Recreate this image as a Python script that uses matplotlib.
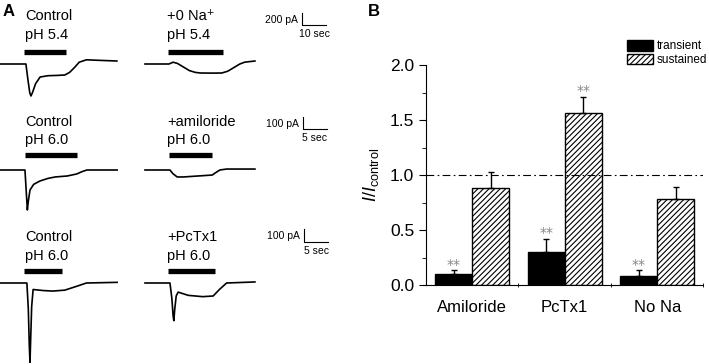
import numpy as np
import matplotlib.pyplot as plt
from matplotlib.patches import Patch

plt.rcParams['font.family'] = ['Liberation Sans', 'DejaVu Sans']
plt.rcParams['mathtext.fontset'] = 'custom'
plt.rcParams['mathtext.rm'] = 'Liberation Sans'
plt.rcParams['mathtext.it'] = 'Liberation Sans:italic'
plt.rcParams['hatch.linewidth'] = 0.8

# ---- panel A: traces, time in s, current in pA ----
ctrl54_t = [0, 10.8, 11.6, 12.4, 12.9, 13.6, 14.8, 16.7, 20, 24, 27, 29, 31, 33, 36, 42, 48.7]
ctrl54_i = [0, 0, -250, -480, -533, -470, -330, -217, -195, -190, -183, -140, -60, 30, 70, 60, 50]
na0_t = [0, 10, 11.7, 13.5, 16, 18.5, 21, 23, 28, 32, 34.5, 37, 39.5, 41.5, 45.8]
na0_i = [0, 0, 30, 10, -50, -110, -140, -150, -152, -150, -120, -60, 0, 30, 50]

ctrl60a_t = [0, 5.2, 5.5, 5.7, 5.9, 6.25, 7.0, 8.3, 10, 11.5, 14, 16, 17, 18.1, 24.4]
ctrl60a_i = [0, 0, -200, -333, -260, -167, -120, -92, -70, -58, -50, -33, -15, 0, 0]
amil_t = [0, 5.2, 5.8, 6.7, 8, 11, 14, 14.6, 15.6, 17, 22.9]
amil_i = [0, 0, -30, -58, -58, -50, -42, -25, 0, 8, 8]

ctrl60b_t = [0, 5.6, 5.9, 6.1, 6.25, 6.4, 6.6, 6.9, 9, 11, 13.5, 16, 18, 24.4]
ctrl60b_i = [0, 0, -200, -480, -610, -420, -180, -50, -58, -62, -55, -25, 0, 5]
pctx_t = [0, 5.2, 5.6, 5.85, 6.0, 6.2, 6.5, 6.9, 9, 12, 14.2, 15.5, 17, 22.9]
pctx_i = [0, 0, -120, -250, -290, -200, -100, -70, -95, -105, -100, -50, 0, 8]

stim_left = [(10, 27.5), (5.2, 16), (5, 12.9)]
stim_right = [(9.6, 32.5), (5, 14), (4.8, 14.6)]
left_labels = [('Control', 'pH 5.4'), ('Control', 'pH 6.0'), ('Control', 'pH 6.0')]
right_labels = [('+0 Na\u207a', 'pH 5.4'), ('+amiloride', 'pH 6.0'), ('+PcTx1', 'pH 6.0')]
scale_pA = [200, 100, 100]
scale_s = [10, 5, 5]

# ---- panel B ----
cats = ['Amiloride', 'PcTx1', 'No Na']
transient = [0.10, 0.30, 0.08]
transient_err = [0.033, 0.12, 0.055]
sustained = [0.88, 1.56, 0.78]
sustained_err = [0.15, 0.15, 0.11]
sig_transient = ['**', '**', '**']
sig_sustained = ['', '**', '']

W, H = 709, 364
fig = plt.figure(figsize=(W / 100, H / 100), dpi=100)


def px_box(x0, y0, x1, y1):
    return [x0 / W, 1 - y1 / H, (x1 - x0) / W, (y1 - y0) / H]


def ftext(x, y, s, **kw):
    fig.text(x / W, 1 - y / H, s, **kw)


# layout per row: band top, band bottom, baseline y, px per s, pA per px
rows = [
    dict(y0=40, y1=112, base=64, pps=2.4, papx=200 / 12, bar_y=52, scale=(302, 25), txt=(16, 35)),
    dict(y0=145, y1=222, base=170, pps=4.8, papx=100 / 12, bar_y=155, scale=(303, 129), txt=(122, 140)),
    dict(y0=258, y1=364, base=283, pps=4.8, papx=100 / 13, bar_y=271, scale=(304, 242), txt=(237, 256)),
]
traces = [((ctrl54_t, ctrl54_i), (na0_t, na0_i)),
          ((ctrl60a_t, ctrl60a_i), (amil_t, amil_i)),
          ((ctrl60b_t, ctrl60b_i), (pctx_t, pctx_i))]
right_x = 145

for r, row in enumerate(rows):
    ax = fig.add_axes(px_box(0, row['y0'], 345, row['y1']))
    pps, papx, base = row['pps'], row['papx'], row['base']
    ax.set_xlim(0, 345 / pps)
    ax.set_ylim(-(row['y1'] - base) * papx, (base - row['y0']) * papx)
    ax.axis('off')
    off = right_x / pps
    (lt, li), (rt, ri) = traces[r]
    ax.plot(lt, li, color='black', lw=1.2)
    ax.plot(np.array(rt) + off, ri, color='black', lw=1.2)
    bar_i = (base - row['bar_y']) * papx
    ax.plot(stim_left[r], [bar_i, bar_i], color='black', lw=3.8, solid_capstyle='butt')
    ax.plot(np.array(stim_right[r]) + off, [bar_i, bar_i], color='black', lw=3.8,
            solid_capstyle='butt')
    # scale bar
    sx, sy = row['scale']
    t0 = sx / pps
    i0 = (base - sy) * papx
    ax.plot([t0, t0, t0 + scale_s[r]], [i0 + scale_pA[r], i0, i0], color='black',
            lw=0.8, clip_on=False)
    ax.text(t0 - 4 / pps, i0 + scale_pA[r] * 0.45, f'{scale_pA[r]} pA', ha='right',
            va='center', fontsize=7.5, clip_on=False)
    ax.text(t0 + 12 / pps, i0 - 9 * papx, f'{scale_s[r]} sec', ha='center',
            va='center', fontsize=7.5, clip_on=False)
    # labels
    ty1, ty2 = row['txt']
    ftext(25, ty1, left_labels[r][0], fontsize=10.5, va='center')
    ftext(25, ty2, left_labels[r][1], fontsize=10.5, va='center')
    ftext(167, ty1, right_labels[r][0], fontsize=10.5, va='center')
    ftext(167, ty2, right_labels[r][1], fontsize=10.5, va='center')

ftext(3, 12, 'A', fontsize=12, fontweight='bold', va='center')
ftext(368, 12, 'B', fontsize=12, fontweight='bold', va='center')

# ---- bar chart ----
axb = fig.add_axes(px_box(426, 65, 703.5, 285))
x = np.arange(1, len(cats) + 1)
w = 0.4
axb.bar(x - w / 2, transient, w, color='black', edgecolor='black', lw=1,
        yerr=[np.zeros(len(cats)), transient_err], capsize=2.5,
        error_kw=dict(lw=1, capthick=1, ecolor='black'))
axb.bar(x + w / 2, sustained, w, color='white', edgecolor='black', lw=1, hatch='//////',
        yerr=[np.zeros(len(cats)), sustained_err], capsize=2.5,
        error_kw=dict(lw=1, capthick=1, ecolor='black'))
for xi, v, e, s in zip(x - w / 2, transient, transient_err, sig_transient):
    if s:
        axb.annotate(s, (xi, v + e), xytext=(0, -1), textcoords='offset points',
                     ha='center', va='bottom', fontsize=10, color='#888888',
                     family='DejaVu Sans')
for xi, v, e, s in zip(x + w / 2, sustained, sustained_err, sig_sustained):
    if s:
        axb.annotate(s, (xi, v + e), xytext=(0, -1), textcoords='offset points',
                     ha='center', va='bottom', fontsize=10, color='#888888',
                     family='DejaVu Sans')
axb.axhline(1.0, color='black', lw=0.8, dashes=(7, 3, 1.5, 3))
axb.set_xlim(0.5, 3.5)
axb.set_ylim(0, 2.0)
axb.spines['top'].set_visible(False)
axb.spines['right'].set_visible(False)
axb.set_yticks([0, 0.5, 1.0, 1.5, 2.0])
axb.set_yticks([0.25, 0.75, 1.25, 1.75], minor=True)
axb.set_yticklabels(['0.0', '0.5', '1.0', '1.5', '2.0'], fontsize=12.5)
axb.set_xticks(x)
axb.set_xticklabels(cats, fontsize=12)
axb.set_xticks([1.5, 2.5, 3.5], minor=True)
axb.tick_params(axis='x', which='major', length=0, pad=11)
axb.tick_params(axis='x', which='minor', length=3, direction='inout')
axb.tick_params(axis='y', which='major', length=5)
axb.tick_params(axis='y', which='minor', length=3)
axb.set_ylabel(r'$\mathit{I/I}_{\mathrm{control}}$', fontsize=13, labelpad=6)
axb.patch.set_alpha(0)

handles = [Patch(facecolor='black', edgecolor='black', label='transient'),
           Patch(facecolor='white', edgecolor='black', hatch='//////', label='sustained')]
fig.legend(handles=handles, loc='upper left', bbox_to_anchor=(627 / W, 1 - 40 / H),
           frameon=False, fontsize=8.5, handlelength=2.2, handleheight=1.0,
           handletextpad=0.3, labelspacing=0.1, borderpad=0, borderaxespad=0)

fig.savefig('out.png', dpi=100)
